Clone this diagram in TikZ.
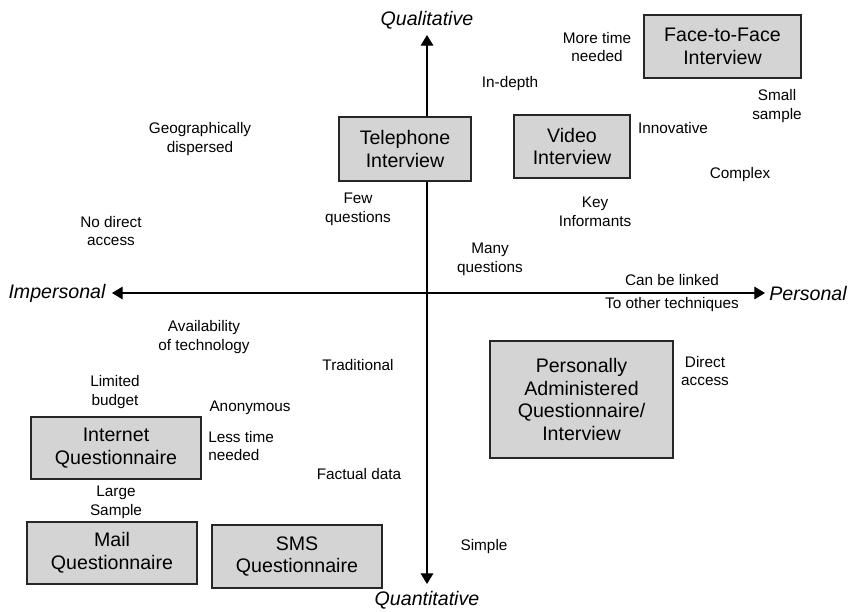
\documentclass[tikz,border=0pt]{standalone}
\usepackage{fontspec}
\setmainfont{Liberation Sans}
\usetikzlibrary{arrows.meta}
\begin{document}
\begin{tikzpicture}[x=0.75pt,y=-0.75pt,
  method/.style={draw=black!85,line width=0.8pt,fill=black!17,inner sep=0pt,
    align=center,font=\fontsize{14.7}{17.2}\selectfont},
  note/.style={align=center,inner sep=0pt,font=\fontsize{11.5}{14}\selectfont},
  axislabel/.style={inner sep=0pt,font=\fontsize{14.7}{17}\selectfont\itshape},
  axis/.style={line width=0.8pt,-{Triangle[length=8pt,width=9.5pt]}}]
\useasboundingbox (0,0) rectangle (852,611);

% axes through the centre
\coordinate (o) at (427,293);
\coordinate (up) at (427,35);
\coordinate (down) at (427,584);
\coordinate (left) at (112,293);
\coordinate (right) at (765,293);
\draw[axis] (o) -- (up);
\draw[axis] (o) -- (down);
\draw[axis] (o) -- (left);
\draw[axis] (o) -- (right);

\node[axislabel] (qual) at (427,20) {Qualitative};
\node[axislabel] (quant) at (427,600) {Quantitative};
\node[axislabel] (imp) at (57,293) {Impersonal};
\node[axislabel] (personal) at (808,293) {Personal};

% data collection methods
\node[method,minimum width=132pt*0.75,minimum height=64pt*0.75] (tel) at (405,149) {Telephone\\Interview};
\node[method,minimum width=116pt*0.75,minimum height=63pt*0.75] (vid) at (572,146.5) {Video\\Interview};
\node[method,minimum width=157pt*0.75,minimum height=63pt*0.75] (f2f) at (722.5,46.5) {Face-to-Face\\Interview};
\node[method,minimum width=183pt*0.75,minimum height=117pt*0.75] (pai) at (581.5,399.5) {Personally\\Administered\\Questionnaire/\\Interview};
\node[method,minimum width=170pt*0.75,minimum height=62pt*0.75] (inet) at (116,448) {Internet\\Questionnaire};
\node[method,minimum width=170pt*0.75,minimum height=62pt*0.75] (mail) at (112,553) {Mail\\Questionnaire};
\node[method,minimum width=170pt*0.75,minimum height=63pt*0.75] (sms) at (297,556.5) {SMS\\Questionnaire};

% characteristics
\node[note] (moretime) at (597,47) {More time\\needed};
\node[note] (indepth) at (510,84) {In-depth};
\node[note] (small) at (777,106) {Small\\sample};
\node[note] (innov) at (673,128) {Innovative};
\node[note] (complex) at (740,175) {Complex};
\node[note] (geo) at (200,139) {Geographically\\dispersed};
\node[note] (few) at (358,209) {Few\\questions};
\node[note] (key) at (595,212) {Key\\Informants};
\node[note] (nodirect) at (111,231) {No direct\\access};
\node[note] (many) at (490,259) {Many\\questions};
\node[note] (linked) at (672,280) {Can be linked};
\node[note] (other) at (672,305) {To other techniques};
\node[note] (avail) at (204,337) {Availability\\of technology};
\node[note] (trad) at (358,365) {Traditional};
\node[note] (direct) at (705,371) {Direct\\access};
\node[note] (budget) at (115,392) {Limited\\budget};
\node[note] (anon) at (250,408) {Anonymous};
\node[note,align=left,anchor=west] (lesstime) at (208,446) {Less time\\needed};
\node[note] (fact) at (359,474) {Factual data};
\node[note] (large) at (116,502) {Large\\Sample};
\node[note] (simple) at (484,547) {Simple};
\end{tikzpicture}
\end{document}
